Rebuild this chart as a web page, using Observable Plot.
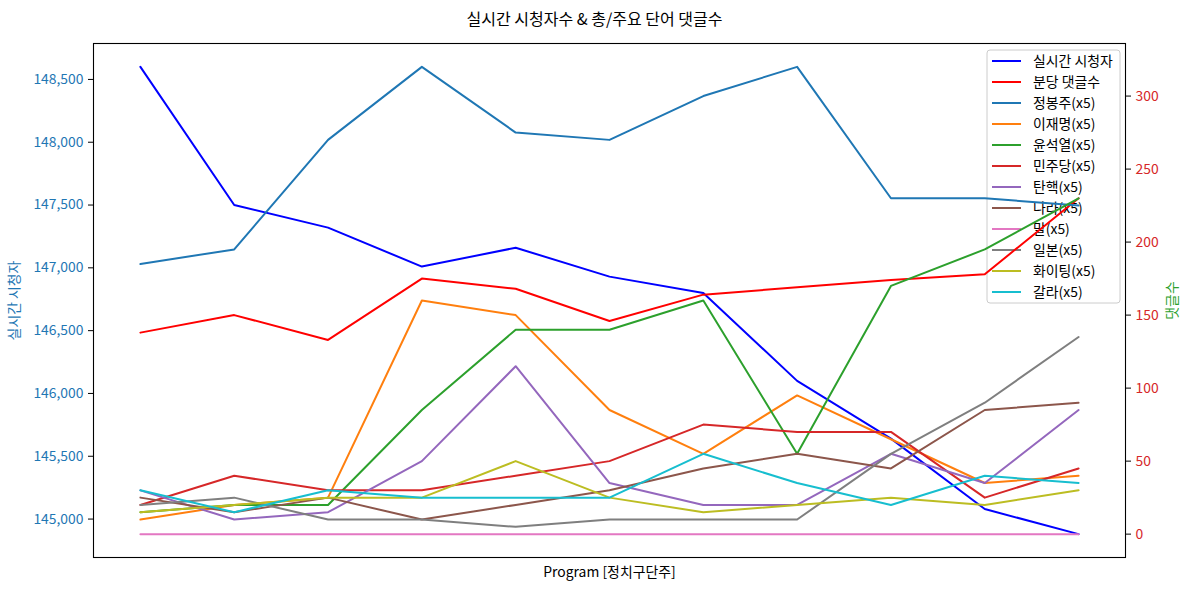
<!DOCTYPE html>
<html><head><meta charset="utf-8">
<script src="https://cdn.jsdelivr.net/npm/d3@7"></script>
<script src="https://cdn.jsdelivr.net/npm/@observablehq/plot@0.6"></script>
<style>
body{margin:0;background:#fff;font-family:"Noto Sans CJK KR","Noto Sans",sans-serif;}
#title{height:30px;line-height:36px;text-align:center;font-size:16px;color:#000;white-space:nowrap;}
</style></head><body>
<div id="title">실시간 시청자수 &amp; 총/주요 단어 댓글수</div>
<div id="chart"></div>
<script>
// ---- data ----
const xIndex = [0,1,2,3,4,5,6,7,8,9,10];
const viewers = [148600,147500,147320,147010,147160,146930,146800,146100,145640,145080,144880];
const commentsPerMin = [138,150,133,175,168,146,164,169,174,178,230];
const kwJeong    = [185,195,270,320,275,270,300,320,230,230,225];
const kwLee      = [10,20,25,160,150,85,55,95,65,35,40];
const kwYoon     = [15,20,20,85,140,140,160,55,170,195,230];
const kwMinju    = [20,40,30,30,40,50,75,70,70,25,45];
const kwTanhaek  = [30,10,15,50,115,35,20,20,55,35,85];
const kwNara     = [25,15,25,10,20,30,45,55,45,85,90];
const kwMal      = [0,0,0,0,0,0,0,0,0,0,0];
const kwJapan    = [20,25,10,10,5,10,10,10,55,90,135];
const kwFighting = [15,20,25,25,50,25,15,20,25,20,30];
const kwGalla    = [30,15,30,25,25,25,55,35,20,40,35];

const leftTicks = [145000,145500,146000,146500,147000,147500,148000,148500];
const rightTicks = [0,50,100,150,200,250,300];
const legendLabels = ["실시간 시청자","분당 댓글수","정봉주(x5)","이재명(x5)","윤석열(x5)","민주당(x5)","탄핵(x5)","나라(x5)","말(x5)","일본(x5)","화이팅(x5)","갈라(x5)"];
const legendColors = ["#0000ff","#ff0000","#1f77b4","#ff7f0e","#2ca02c","#d62728","#9467bd","#8c564b","#e377c2","#7f7f7f","#bcbd22","#17becf"];
const rightSeries = [commentsPerMin,kwJeong,kwLee,kwYoon,kwMinju,kwTanhaek,kwNara,kwMal,kwJapan,kwFighting,kwGalla];

// ---- scales (matplotlib-like 5% margins) ----
const pad = e => { const r = e[1]-e[0]; return [e[0]-0.05*r, e[1]+0.05*r]; };
const leftDomain = pad(d3.extent(viewers));
const rightDomain = pad(d3.extent(rightSeries.flat()));
const toLeft = d3.scaleLinear(rightDomain, leftDomain);

function legendMark(index, scales, values, dims) {
  const g = d3.create("svg:g");
  const w = 133, h = 253, rowH = 21;
  const x0 = dims.width - dims.marginRight - 5 - w;
  const y0 = dims.marginTop + 7;
  g.append("rect").attr("x", x0).attr("y", y0).attr("width", w).attr("height", h)
    .attr("rx", 3).attr("fill", "white").attr("fill-opacity", 0.8).attr("stroke", "#cccccc");
  legendLabels.forEach((lab, k) => {
    const cy = y0 + 11 + k * rowH;
    g.append("line").attr("x1", x0 + 5).attr("x2", x0 + 34).attr("y1", cy).attr("y2", cy)
      .attr("stroke", legendColors[k]).attr("stroke-width", 2);
    g.append("text").attr("x", x0 + 46).attr("y", cy).attr("dy", "0.35em")
      .attr("text-anchor", "start")
      .attr("fill", "#000").attr("font-size", "13.9px").text(lab);
  });
  return g.node();
}

const chart = Plot.plot({
  width: 1189,
  height: 562,
  marginTop: 13,
  marginBottom: 35,
  marginLeft: 93,
  marginRight: 64,
  style: {fontFamily: '"Noto Sans CJK KR","Noto Sans",sans-serif', fontSize: "13.9px", background: "white", color: "black"},
  x: {domain: [-0.5, 10.5], axis: null},
  y: {domain: leftDomain, axis: null},
  marks: [
    Plot.line(xIndex, {x: d => d, y: (d, i) => viewers[i], stroke: legendColors[0], strokeWidth: 2}),
    legendMark,
    ...rightSeries.map((s, k) => Plot.line(xIndex, {x: d => d, y: (d, i) => toLeft(s[i]), stroke: legendColors[k + 1], strokeWidth: 2})),
    Plot.axisY(leftTicks, {anchor: "left", tickSize: 5, tickFormat: () => "", label: null, stroke: "black"}),
    Plot.axisY(leftTicks, {anchor: "left", tickSize: 0, tickPadding: 10, tickFormat: d3.format(","), label: null, color: "#1f77b4"}),
    Plot.axisY(rightTicks.map(toLeft), {anchor: "right", tickSize: 5, tickFormat: () => "", label: null, stroke: "black"}),
    Plot.axisY(rightTicks.map(toLeft), {anchor: "right", tickSize: 0, tickPadding: 10, tickFormat: d => String(Math.round(toLeft.invert(d))), label: null, color: "#d62728"}),
    Plot.text(["실시간 시청자"], {frameAnchor: "left", dx: -79, rotate: -90, textAnchor: "middle", fill: "#1f77b4"}),
    Plot.text(["댓글수"], {frameAnchor: "right", dx: 47, rotate: -90, textAnchor: "middle", fill: "#2ca02c"}),
    Plot.text(["Program [정치구단주]"], {frameAnchor: "bottom", dy: 19, fill: "black"}),
    Plot.frame({stroke: "black", strokeWidth: 1.1})
  ]
});
document.getElementById("chart").appendChild(chart);
</script>
</body></html>
